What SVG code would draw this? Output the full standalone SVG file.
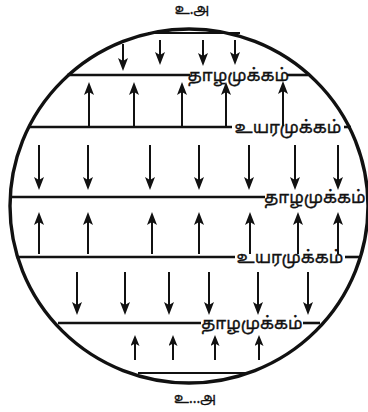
<svg xmlns="http://www.w3.org/2000/svg" width="368" height="412" viewBox="0 0 368 412">
<style>
.band{stroke:#111;stroke-width:2.6;fill:none}
.outline{stroke:#111;stroke-width:3.4;fill:none}
.arr{stroke:#111;stroke-width:2;fill:none;marker-end:url(#head)}
.arrs{stroke:#111;stroke-width:2;fill:none;marker-end:url(#heads)}
.lbl{font-family:"Noto Sans Tamil","Noto Sans","Liberation Sans",sans-serif;font-size:17px;fill:#111;stroke:#111;stroke-width:0.35}
.cap{font-family:"Noto Sans Tamil","Noto Sans","Liberation Sans",sans-serif;font-size:14px;fill:#111;stroke:#111;stroke-width:0.3}
</style>
<defs>
<marker id="head" markerUnits="userSpaceOnUse" viewBox="0 0 13 10" refX="10" refY="5" markerWidth="13" markerHeight="10" orient="auto">
<path d="M0,0 L13,5 L0,10 L3,5 z" fill="#111"/>
</marker>
<marker id="heads" markerUnits="userSpaceOnUse" viewBox="0 0 11 9" refX="8" refY="4.5" markerWidth="11" markerHeight="9" orient="auto">
<path d="M0,0 L11,4.5 L0,9 L2.5,4.5 z" fill="#111"/>
</marker>
</defs>
<rect width="368" height="412" fill="#fff"/>
<g id="globe">
<ellipse class="outline" cx="189" cy="206" rx="179" ry="177"/>
<line class="band" x1="148" y1="33" x2="240" y2="33" style="stroke-width:2"/>
<line class="band" x1="138" y1="373" x2="250" y2="373" style="stroke-width:2"/>
</g>
<g id="label-top"><text class="cap" x="192" y="14" text-anchor="middle">உ.அ</text></g>
<g id="label-bottom"><text class="cap" x="195" y="403" text-anchor="middle">உ...அ</text></g>
<g id="low1">
<line class="band" x1="67" y1="75" x2="190" y2="75"/>
<line class="band" x1="287" y1="75" x2="308" y2="75"/>
<text class="lbl" x="238.5" y="81" text-anchor="middle">தாழமுக்கம்</text>
</g>
<g id="high1">
<line class="band" x1="28" y1="127" x2="232" y2="127"/>
<line class="band" x1="344" y1="127" x2="351" y2="127"/>
<text class="lbl" x="288" y="133" text-anchor="middle">உயரமுக்கம்</text>
</g>
<g id="low2">
<line class="band" x1="11" y1="197" x2="265" y2="197"/>
<text class="lbl" x="315" y="203" text-anchor="middle">தாழமுக்கம்</text>
</g>
<g id="high2">
<line class="band" x1="16" y1="257" x2="235" y2="257"/>
<line class="band" x1="345" y1="257" x2="361" y2="257"/>
<text class="lbl" x="290" y="263" text-anchor="middle">உயரமுக்கம்</text>
</g>
<g id="low3">
<line class="band" x1="58" y1="323" x2="201" y2="323"/>
<line class="band" x1="303" y1="323" x2="320" y2="323"/>
<text class="lbl" x="252" y="329" text-anchor="middle">தாழமுக்கம்</text>
</g>
<g id="connectors">
<line class="arr" x1="123" y1="44" x2="123" y2="68"/>
<line class="arr" x1="160" y1="40" x2="160" y2="62"/>
<line class="arr" x1="203" y1="40" x2="203" y2="63"/>
<line class="arr" x1="235" y1="40" x2="235" y2="62"/>
<line class="arr" x1="89" y1="126" x2="89" y2="85"/>
<line class="arr" x1="134" y1="126" x2="134" y2="85"/>
<line class="arr" x1="182" y1="126" x2="182" y2="85"/>
<line class="arr" x1="226" y1="126" x2="226" y2="85"/>
<line class="arr" x1="283" y1="126" x2="283" y2="84"/>
<line class="arr" x1="39" y1="145" x2="39" y2="187"/>
<line class="arr" x1="88" y1="145" x2="88" y2="187"/>
<line class="arr" x1="150" y1="145" x2="150" y2="187"/>
<line class="arr" x1="199" y1="145" x2="199" y2="187"/>
<line class="arr" x1="249" y1="145" x2="249" y2="187"/>
<line class="arr" x1="295" y1="145" x2="295" y2="187"/>
<line class="arr" x1="338" y1="145" x2="338" y2="187"/>
<line class="arr" x1="39" y1="254" x2="39" y2="215"/>
<line class="arr" x1="88" y1="254" x2="88" y2="215"/>
<line class="arr" x1="152" y1="254" x2="152" y2="215"/>
<line class="arr" x1="199" y1="254" x2="199" y2="215"/>
<line class="arr" x1="250" y1="254" x2="250" y2="215"/>
<line class="arr" x1="298" y1="254" x2="298" y2="215"/>
<line class="arr" x1="338" y1="254" x2="338" y2="215"/>
<line class="arr" x1="77" y1="272" x2="77" y2="312"/>
<line class="arr" x1="125" y1="272" x2="125" y2="312"/>
<line class="arr" x1="169" y1="272" x2="169" y2="312"/>
<line class="arr" x1="209" y1="272" x2="209" y2="312"/>
<line class="arr" x1="258" y1="272" x2="258" y2="312"/>
<line class="arr" x1="308" y1="272" x2="308" y2="312"/>
<line class="arrs" x1="135" y1="360" x2="135" y2="338"/>
<line class="arrs" x1="173" y1="360" x2="173" y2="338"/>
<line class="arrs" x1="215" y1="360" x2="215" y2="338"/>
<line class="arrs" x1="259" y1="360" x2="259" y2="338"/>
</g>
</svg>
